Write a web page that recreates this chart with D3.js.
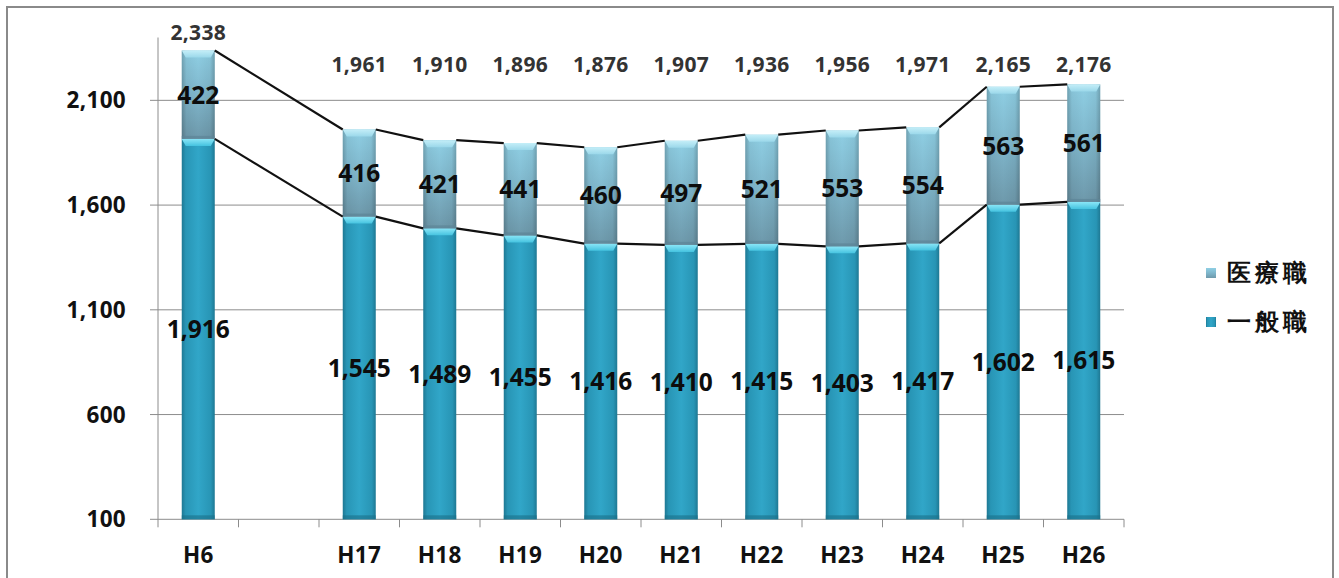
<!DOCTYPE html>
<html><head><meta charset="utf-8">
<script src="https://cdn.jsdelivr.net/npm/d3@7"></script>
<style>
html,body{margin:0;padding:0;background:#fff;}
svg{display:block;}
text{font-family:"Open Sans",Lato,sans-serif;font-weight:700;}
</style></head>
<body>
<script>
const categories = ["H6", "", "H17", "H18", "H19", "H20", "H21", "H22", "H23", "H24", "H25", "H26"];
const general = [1916, null, 1545, 1489, 1455, 1416, 1410, 1415, 1403, 1417, 1602, 1615];
const medical = [422, null, 416, 421, 441, 460, 497, 521, 553, 554, 563, 561];
const totals = [2338, null, 1961, 1910, 1896, 1876, 1907, 1936, 1956, 1971, 2165, 2176];
const yTicks = [100, 600, 1100, 1600, 2100];
const seriesNames = ["医療職", "一般職"];

const W = 1339, H = 578;
const svg = d3.select("body").append("svg").attr("width", W).attr("height", H);
svg.append("rect").attr("width", W).attr("height", H).attr("fill", "#fff");
svg.append("rect").attr("x", 7).attr("y", 7).attr("width", 1326).attr("height", 590)
  .attr("fill", "none").attr("stroke", "#8a8a8a").attr("stroke-width", 2);

const x = d3.scaleBand().domain(categories).range([158, 1124]).padding(0);
const y = d3.scaleLinear().domain([100, 2400]).range([519.3, 37.5]);
const bw = x.bandwidth() * 0.41;

const defs = svg.append("defs");
function lin(id, x2, y2, stops) {
  const g = defs.append("linearGradient").attr("id", id).attr("x1", 0).attr("y1", 0).attr("x2", x2).attr("y2", y2);
  stops.forEach(s => g.append("stop").attr("offset", s[0]).attr("stop-color", s[1]).attr("stop-opacity", s[2] == null ? 1 : s[2]));
}
lin("gLow", 1, 0, [[0, "#1e7893"], [0.12, "#2895b5"], [0.5, "#31a6c8"], [0.88, "#2895b5"], [1, "#1e7893"]]);
lin("gUp", 0, 1, [[0, "#8fcfe4"], [0.5, "#7fb6cb"], [1, "#6e99ab"]]);
lin("gEdge", 1, 0, [[0, "#000", 0.22], [0.14, "#000", 0.05], [0.5, "#000", 0], [0.86, "#000", 0.05], [1, "#000", 0.22]]);
lin("gBevLow", 0, 1, [[0, "#8ae6f7"], [1, "#45c3e0"]]);
lin("gBevUp", 0, 1, [[0, "#c4eef8"], [1, "#9bd8ea"]]);

const grid = svg.append("g");
yTicks.forEach(t => {
  grid.append("line").attr("x1", 150).attr("x2", 1124).attr("y1", y(t)).attr("y2", y(t))
    .attr("stroke", "#8c8c8c").attr("stroke-width", 1);
});
svg.append("line").attr("x1", 158).attr("x2", 158).attr("y1", y(2400)).attr("y2", y(100))
  .attr("stroke", "#8c8c8c").attr("stroke-width", 1);
categories.forEach(c => {
  svg.append("line").attr("x1", x(c)).attr("x2", x(c)).attr("y1", y(100)).attr("y2", y(100) + 8)
    .attr("stroke", "#8c8c8c");
});
svg.append("line").attr("x1", 1124).attr("x2", 1124).attr("y1", y(100)).attr("y2", y(100) + 8).attr("stroke", "#8c8c8c");

svg.append("g").selectAll("text").data(yTicks).join("text")
  .attr("x", 126).attr("y", d => y(d)).attr("dy", "0.36em").attr("text-anchor", "end")
  .attr("font-size", 22.5).attr("letter-spacing", 0.3).attr("fill", "#111")
  .text(d => d3.format(",")(d));
svg.append("g").selectAll("text").data(categories).join("text")
  .attr("x", d => x(d) + x.bandwidth() / 2).attr("y", 555).attr("dy", "0.36em").attr("text-anchor", "middle")
  .attr("font-size", 22.5).attr("letter-spacing", 0.3).attr("fill", "#111")
  .text(d => d);

const idx = d3.range(categories.length).filter(i => general[i] != null);
const bars = svg.append("g");
idx.forEach(i => {
  const cx = x(categories[i]) + x.bandwidth() / 2;
  const x0 = cx - bw / 2;
  const yb = y(100), yg = y(general[i]), yt = y(general[i] + medical[i]);
  bars.append("rect").attr("x", x0).attr("y", yg).attr("width", bw).attr("height", yb - yg).attr("fill", "url(#gLow)");
  bars.append("polygon").attr("points", [[x0, yg], [x0 + bw, yg], [x0 + bw - 4, yg + 7], [x0 + 4, yg + 7]].join(" "))
    .attr("fill", "url(#gBevLow)");
  bars.append("rect").attr("x", x0).attr("y", yb - 4).attr("width", bw).attr("height", 4).attr("fill", "#1b6f88").attr("opacity", 0.6);
  bars.append("rect").attr("x", x0).attr("y", yt).attr("width", bw).attr("height", yg - yt).attr("fill", "url(#gUp)");
  bars.append("rect").attr("x", x0).attr("y", yt).attr("width", bw).attr("height", yg - yt).attr("fill", "url(#gEdge)");
  bars.append("polygon").attr("points", [[x0, yt], [x0 + bw, yt], [x0 + bw - 4, yt + 7], [x0 + 4, yt + 7]].join(" "))
    .attr("fill", "url(#gBevUp)");
  bars.append("rect").attr("x", x0).attr("y", yg - 3).attr("width", bw).attr("height", 3).attr("fill", "#5d8597").attr("opacity", 0.7);
});

const lines = svg.append("g").attr("stroke", "#111").attr("stroke-width", 2.2).attr("fill", "none");
for (let k = 0; k < idx.length - 1; k++) {
  const a = idx[k], b = idx[k + 1];
  const xa = x(categories[a]) + x.bandwidth() / 2 + bw / 2;
  const xb = x(categories[b]) + x.bandwidth() / 2 - bw / 2;
  lines.append("line").attr("x1", xa).attr("y1", y(general[a])).attr("x2", xb).attr("y2", y(general[b]));
  lines.append("line").attr("x1", xa).attr("y1", y(general[a] + medical[a])).attr("x2", xb).attr("y2", y(general[b] + medical[b]));
}

const labs = svg.append("g").attr("text-anchor", "middle").attr("fill", "#0d0d0d").attr("font-size", 24.5);
idx.forEach(i => {
  const cx = x(categories[i]) + x.bandwidth() / 2;
  labs.append("text").attr("x", cx).attr("y", (y(100) + y(general[i])) / 2).attr("dy", "0.36em")
    .text(d3.format(",")(general[i]));
  labs.append("text").attr("x", cx).attr("y", (y(general[i]) + y(general[i] + medical[i])) / 2).attr("dy", "0.36em")
    .text(d3.format(",")(medical[i]));
});
const tl = svg.append("g").attr("text-anchor", "middle").attr("fill", "#333").attr("font-size", 21);
idx.forEach(i => {
  const cx = x(categories[i]) + x.bandwidth() / 2;
  const ty = Math.min(y(totals[i]) - 18, y(2270));
  tl.append("text").attr("x", cx).attr("y", ty).attr("dy", "0.36em").attr("letter-spacing", 0.3)
    .text(d3.format(",")(totals[i]));
});

const leg = svg.append("g");
const legY = [273, 322];
const legFill = ["url(#gUp)", "url(#gLow)"];
seriesNames.forEach((n, k) => {
  leg.append("rect").attr("x", 1206).attr("y", legY[k] - 5).attr("width", 10).attr("height", 10).attr("fill", legFill[k]);
  leg.append("text").attr("x", 1227).attr("y", legY[k]).attr("dy", "0.36em")
    .attr("font-family", "'Noto Sans CJK JP'").attr("font-weight", 700).attr("font-size", 23.5).attr("letter-spacing", 4)
    .attr("fill", "#111").text(n);
});
</script>
</body></html>
